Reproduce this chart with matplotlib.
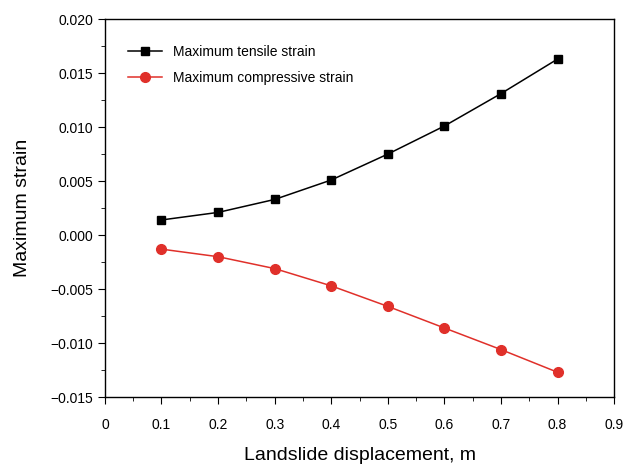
import matplotlib
matplotlib.use("Agg")
import matplotlib.pyplot as plt
from matplotlib.ticker import MultipleLocator, FuncFormatter

plt.rcParams['font.family'] = ['Liberation Sans', 'DejaVu Sans']

displacement = [0.1, 0.2, 0.3, 0.4, 0.5, 0.6, 0.7, 0.8]
tensile = [0.0014, 0.0021, 0.0033, 0.0051, 0.0075, 0.0101, 0.0131, 0.0163]
compressive = [-0.0013, -0.0020, -0.0031, -0.0047, -0.0066, -0.0086, -0.0106, -0.0127]

fig = plt.figure(figsize=(6.28, 4.65), dpi=100)
ax = fig.add_axes([0.167, 0.146, 0.811, 0.813])

ax.plot(displacement, tensile, color='black', marker='s', markersize=6, lw=1.1,
        label='Maximum tensile strain')
ax.plot(displacement, compressive, color='#e0302a', marker='o', markersize=7, lw=1.1,
        label='Maximum compressive strain')

ax.set_xlim(0, 0.9)
ax.set_ylim(-0.015, 0.020)
ax.xaxis.set_major_locator(MultipleLocator(0.1))
ax.xaxis.set_minor_locator(MultipleLocator(0.05))
ax.yaxis.set_major_locator(MultipleLocator(0.005))
ax.yaxis.set_minor_locator(MultipleLocator(0.0025))
ax.xaxis.set_major_formatter(FuncFormatter(lambda v, p: f"{v:.1f}" if abs(v) > 1e-9 else "0"))
ax.yaxis.set_major_formatter(FuncFormatter(lambda v, p: f"{v:.3f}".replace('-', '\u2212')))

ax.tick_params(which='both', direction='out', top=False, right=False, labelsize=10)
ax.tick_params(which='major', length=5)
ax.tick_params(which='minor', length=3)
ax.tick_params(axis='x', pad=10)
for s in ax.spines.values():
    s.set_linewidth(1.0)

ax.set_xlabel('Landslide displacement, m', fontsize=14, labelpad=11)
ax.set_ylabel('Maximum strain', fontsize=14, labelpad=14)

ax.legend(loc='upper left', frameon=False, fontsize=10, bbox_to_anchor=(0.02, 0.965),
          handlelength=2.5, labelspacing=0.85)

fig.savefig('out.png', dpi=100)
